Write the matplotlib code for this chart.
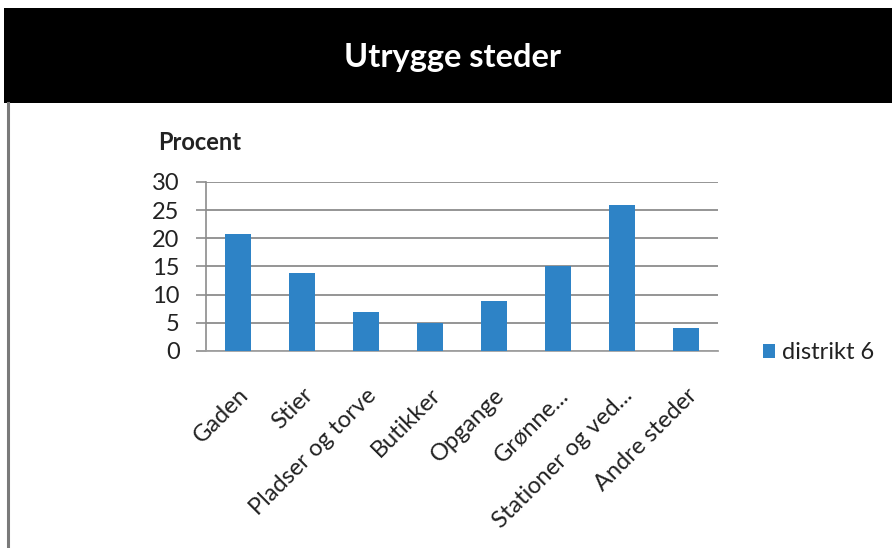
import matplotlib.pyplot as plt
from matplotlib.patches import Rectangle
from matplotlib.lines import Line2D
import numpy as np

categories = ['Gaden', 'Stier', 'Pladser og torve', 'Butikker', 'Opgange',
              'Grønne...', 'Stationer og ved...', 'Andre steder']
values = [20.8, 13.9, 6.9, 4.9, 8.9, 15.1, 25.9, 4.0]
series_name = 'distrikt 6'
yticks = [0, 5, 10, 15, 20, 25, 30]

plt.rcParams['font.family'] = ['Lato', 'DejaVu Sans']

fig = plt.figure(figsize=(8.92, 5.48), dpi=100)

# black header band with title
fig.patches.append(Rectangle((4 / 892, 0.812), 1, 0.173, transform=fig.transFigure,
                             facecolor='black', edgecolor='none', zorder=0))
fig.text(453 / 892, 1 - 67 / 548, 'Utrygge steder', color='white', fontsize=23.5,
         fontweight='bold', ha='center', va='baseline')
# grey border on the left side
fig.lines.append(Line2D([8 / 892, 8 / 892], [0, 0.812], transform=fig.transFigure,
                        color='#7a7a7a', lw=2.2))

ax = fig.add_axes([0.231, 0.3595, 0.574, 0.3084])
x = np.arange(len(categories))
ax.bar(x, values, width=0.4, color='#2E83C6', label=series_name, zorder=3)

ax.set_xlim(-0.5, len(categories) - 0.5)
ax.set_ylim(0, 30)
ax.set_yticks(yticks)
ax.set_yticklabels([str(t) for t in yticks], fontsize=17, color='#222222')
ax.yaxis.grid(True, color='#8c8c8c', lw=1.3)
ax.set_axisbelow(True)
ax.tick_params(axis='y', length=7, color='#8c8c8c', width=1.2, pad=12)
ax.tick_params(axis='x', length=0, pad=24)
ax.set_xticks(x)
ax.set_xticklabels(categories, rotation=45, ha='right', rotation_mode='anchor',
                   fontsize=17, color='#222222')

for side in ['top', 'right']:
    ax.spines[side].set_visible(False)
ax.spines['left'].set_color('#8c8c8c')
ax.spines['bottom'].set_color('#a0a0a0')
ax.spines['left'].set_linewidth(1.2)
ax.spines['bottom'].set_linewidth(1.3)

fig.text(158 / 892, 1 - 142 / 548, 'Procent', fontsize=17, fontweight='bold',
         color='#222222', ha='left', va='center')

ax.legend(loc='center left', bbox_to_anchor=(1.088, -0.01), frameon=False,
          fontsize=17, handlelength=0.5, handleheight=0.5, handletextpad=0.3,
          borderpad=0, borderaxespad=0, labelcolor='#222222')

fig.savefig('out.png', dpi=100)
